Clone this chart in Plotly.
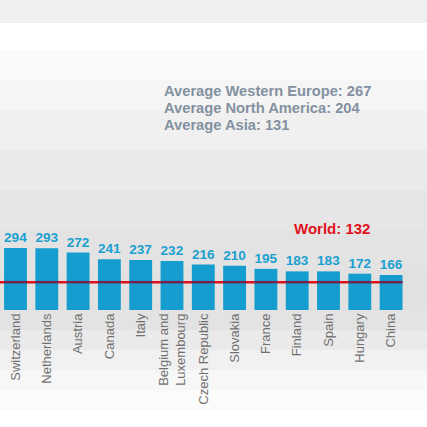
import plotly.graph_objects as go

countries = ["Switzerland", "Netherlands", "Austria", "Canada", "Italy",
             "Belgium and<br>Luxembourg", "Czech Republic", "Slovakia", "France",
             "Finland", "Spain", "Hungary", "China"]
values = [294, 293, 272, 241, 237, 232, 216, 210, 195, 183, 183, 172, 166]
world = 132
averages = ["Average Western Europe: 267", "Average North America: 204", "Average Asia: 131"]

FONT = "Liberation Sans, Arial, sans-serif"
BLUE = "#169dcf"

# background: light band on top, then white -> grey -> white
bg_steps = [(0, 23, "#efefef")]
grad = [(24, "#ffffff"), (50, "#fafafa"), (80, "#f5f5f5"), (110, "#f0f0f0"), (150, "#eaeaea"),
        (190, "#e6e6e6"), (230, "#e3e3e3"), (270, "#e1e1e1"), (310, "#e3e3e3"), (330, "#eaeaea"),
        (350, "#f1f1f1"), (370, "#f7f7f7"), (390, "#fbfbfb"), (410, "#ffffff"), (427, "#ffffff")]
for (a, c), (b, _) in zip(grad[:-1], grad[1:]):
    bg_steps.append((a, b, c))

PLOT_H = 310  # px height of the plot area

def py(p):
    return 1 - p / PLOT_H

shapes = []
for a, b, c in bg_steps:
    shapes.append(dict(type="rect", xref="paper", yref="paper", x0=-0.05, x1=1.05,
                       y0=py(b), y1=py(a), fillcolor=c, line_width=0, layer="below"))

x_start = -0.495
# world line, drawn under the bars
shapes.append(dict(type="line", xref="x", yref="y", x0=x_start - 0.2, x1=len(countries) - 1,
                   y0=world, y1=world, line=dict(color="#e0121c", width=2.5), layer="below"))

fig = go.Figure()
fig.add_trace(go.Bar(
    x=countries, y=values, marker=dict(color=BLUE, line_width=0),
    text=values, textposition="outside", cliponaxis=False,
    textfont=dict(family=FONT, size=14, color="#1a9fd0", weight="bold"),
))
# line where it crosses the bars (line-ew spans 1.4 x size)
fig.add_trace(go.Scatter(
    x=countries, y=[world] * len(countries), mode="markers",
    marker=dict(symbol="line-ew", size=16.4, line=dict(color="#72244e", width=2.5)),
    hoverinfo="skip",
))

annotations = []
for i, t in enumerate(averages):
    annotations.append(dict(xref="paper", yref="paper", x=162 / 427, y=py(91 + 17 * i),
                            xanchor="left", yanchor="middle", showarrow=False, text=t,
                            font=dict(family=FONT, size=14.7, color="#8391a1", weight="bold")))
annotations.append(dict(xref="paper", yref="paper", x=332 / 427, y=py(228), xanchor="center",
                        yanchor="middle", showarrow=False, text="World: %d" % world,
                        font=dict(family=FONT, size=15, color="#e0121c", weight="bold")))

fig.update_layout(
    width=427, height=427,
    margin=dict(l=0, r=0, t=0, b=427 - PLOT_H),
    paper_bgcolor="white", plot_bgcolor="rgba(0,0,0,0)",
    showlegend=False, bargap=0.27,
    shapes=shapes, annotations=annotations,
    xaxis=dict(range=[x_start, x_start + 427 / 31.3], tickangle=-90, showgrid=False,
               showline=False, ticks="", zeroline=False,
               tickfont=dict(family=FONT, size=13, color="#707070")),
    yaxis=dict(range=[0, PLOT_H / 0.211], visible=False),
)

fig.write_html("out.html", config={"displayModeBar": False},
               post_script="document.body.style.margin='0';")
